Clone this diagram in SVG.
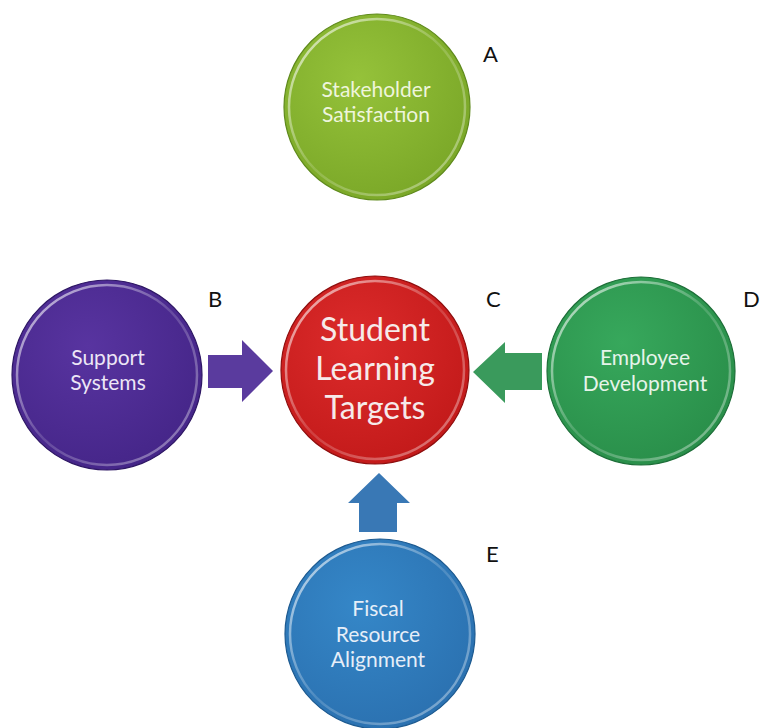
<svg xmlns="http://www.w3.org/2000/svg" width="761" height="728" viewBox="0 0 761 728">
<style>
.lbl{font-family:Lato,"Open Sans",sans-serif;font-size:22px;fill:#111}
.t{font-family:Lato,"Open Sans",sans-serif;font-size:21px;text-anchor:middle}
.big{font-family:Lato,"Open Sans",sans-serif;font-size:32px;text-anchor:middle;fill:#f6eaea}
.rim{fill:none;stroke-width:2.5}
.edge{fill:none;stroke-width:1.2}
</style>
<defs>
<radialGradient id="gA" cx="0.4" cy="0.35" r="0.75"><stop offset="0" stop-color="#95c23a"/><stop offset="1" stop-color="#78a526"/></radialGradient>
<radialGradient id="gB" cx="0.4" cy="0.35" r="0.75"><stop offset="0" stop-color="#5834a0"/><stop offset="1" stop-color="#432486"/></radialGradient>
<radialGradient id="gC" cx="0.4" cy="0.35" r="0.75"><stop offset="0" stop-color="#dc2b2b"/><stop offset="1" stop-color="#c01818"/></radialGradient>
<radialGradient id="gD" cx="0.4" cy="0.35" r="0.75"><stop offset="0" stop-color="#37a85c"/><stop offset="1" stop-color="#288c48"/></radialGradient>
<radialGradient id="gE" cx="0.4" cy="0.35" r="0.75"><stop offset="0" stop-color="#3587c8"/><stop offset="1" stop-color="#2a6fae"/></radialGradient>
<linearGradient id="hl" x1="0" y1="0" x2="1" y2="1"><stop offset="0" stop-color="#fff" stop-opacity="0.75"/><stop offset="0.5" stop-color="#fff" stop-opacity="0.15"/><stop offset="1" stop-color="#fff" stop-opacity="0.45"/></linearGradient>
</defs>
<g id="connectors">
<polygon points="208,355 242,355 242,340 273,371 242,402 242,388 208,388" fill="#5a3b9e"/>
<polygon points="542,353 505,353 505,342 473,372 505,403 505,390 542,390" fill="#3a9a5c"/>
<polygon points="359,532 359,503 348,503 379,473 410,503 397,503 397,532" fill="#3978b5"/>
</g>
<g id="nodeA">
<circle cx="377" cy="107" r="93" fill="url(#gA)"/>
<circle class="rim" cx="377" cy="107" r="88" stroke="url(#hl)"/>
<circle class="edge" cx="377" cy="107" r="93" stroke="#5f8a1c"/>
<text class="t" x="376" y="97" fill="#eef5dc">Stakeholder</text>
<text class="t" x="376" y="122" fill="#eef5dc">Satisfaction</text>
</g>
<g id="nodeB">
<circle cx="107" cy="375" r="95" fill="url(#gB)"/>
<circle class="rim" cx="107" cy="375" r="90" stroke="url(#hl)"/>
<circle class="edge" cx="107" cy="375" r="95" stroke="#2e1764"/>
<text class="t" x="108" y="365" fill="#ece6f6">Support</text>
<text class="t" x="108" y="390" fill="#ece6f6">Systems</text>
</g>
<g id="nodeC">
<circle cx="375" cy="370" r="94" fill="url(#gC)"/>
<circle class="rim" cx="375" cy="370" r="89" stroke="url(#hl)"/>
<circle class="edge" cx="375" cy="370" r="94" stroke="#8e0e0e"/>
<text class="big" x="375" y="341">Student</text>
<text class="big" x="375" y="380">Learning</text>
<text class="big" x="375" y="419">Targets</text>
</g>
<g id="nodeD">
<circle cx="641" cy="371" r="94" fill="url(#gD)"/>
<circle class="rim" cx="641" cy="371" r="89" stroke="url(#hl)"/>
<circle class="edge" cx="641" cy="371" r="94" stroke="#1d6e38"/>
<text class="t" x="645" y="365" fill="#e6f4ea">Employee</text>
<text class="t" x="645" y="391" fill="#e6f4ea">Development</text>
</g>
<g id="nodeE">
<circle cx="380" cy="634" r="95" fill="url(#gE)"/>
<circle class="rim" cx="380" cy="634" r="90" stroke="url(#hl)"/>
<circle class="edge" cx="380" cy="634" r="95" stroke="#1d5a90"/>
<text class="t" x="378" y="616" fill="#e6eef8">Fiscal</text>
<text class="t" x="378" y="642" fill="#e6eef8">Resource</text>
<text class="t" x="378" y="667" fill="#e6eef8">Alignment</text>
</g>
<g id="labels">
<text class="lbl" x="483" y="62">A</text>
<text class="lbl" x="208" y="307">B</text>
<text class="lbl" x="486" y="307">C</text>
<text class="lbl" x="743" y="307">D</text>
<text class="lbl" x="486" y="562">E</text>
</g>
</svg>
